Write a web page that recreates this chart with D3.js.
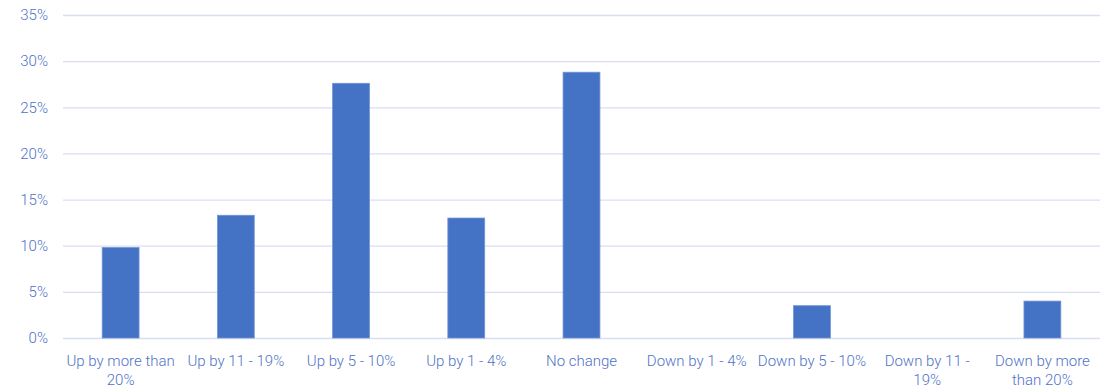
<!DOCTYPE html>
<html>
<head>
<meta charset="utf-8">
<script src="https://cdn.jsdelivr.net/npm/d3@7/dist/d3.min.js"></script>
<style>
  html, body { margin: 0; padding: 0; background: #fff; }
  svg text { font-family: Roboto, "Liberation Sans", sans-serif; font-weight: 300; }
</style>
</head>
<body>
<svg id="chart" width="1108" height="386"></svg>
<script>
// Share of responses by change bucket
const categories = [
  "Up by more than 20%", "Up by 11 - 19%", "Up by 5 - 10%", "Up by 1 - 4%",
  "No change", "Down by 1 - 4%", "Down by 5 - 10%", "Down by 11 - 19%",
  "Down by more than 20%"
];
// Axis label lines for each category
const categoryLines = [
  ["Up by more than", "20%"], ["Up by 11 - 19%"], ["Up by 5 - 10%"], ["Up by 1 - 4%"],
  ["No change"], ["Down by 1 - 4%"], ["Down by 5 - 10%"], ["Down by 11 -", "19%"],
  ["Down by more", "than 20%"]
];
const values = [9.8, 13.3, 27.6, 13.0, 28.8, 0, 3.5, 0, 4.0];
const yTicks = [0, 5, 10, 15, 20, 25, 30, 35];

const svg = d3.select("#chart");
const margin = { left: 63, right: 8, top: 15, bottom: 48 };
const W = 1108, H = 386;

const x = d3.scaleBand()
  .domain(categories)
  .range([margin.left, W - margin.right])
  .paddingInner(0.68)
  .paddingOuter(0.34);

const y = d3.scaleLinear()
  .domain([0, 35])
  .range([H - margin.bottom, margin.top]);

const textColor = "#4f72c9";
const gridColor = "#d9dff3";

// Gridlines
svg.append("g")
  .selectAll("line")
  .data(yTicks)
  .join("line")
  .attr("x1", margin.left)
  .attr("x2", W - margin.right)
  .attr("y1", d => y(d) + 0.5)
  .attr("y2", d => y(d) + 0.5)
  .attr("stroke", gridColor)
  .attr("stroke-width", 1.3);

// Y axis labels
const yAxis = svg.append("g")
  .attr("transform", `translate(${margin.left - 15},0)`)
  .call(d3.axisLeft(y).tickValues(yTicks).tickFormat(d => d + "%").tickSize(0).tickPadding(0));
yAxis.select(".domain").remove();
yAxis.selectAll("text")
  .attr("fill", textColor)
  .style("font-size", "15px")
  .style("font-family", "Roboto, sans-serif")
  .style("font-weight", 300);

// Bars
svg.append("g")
  .selectAll("rect")
  .data(values)
  .join("rect")
  .attr("x", (d, i) => x(categories[i]))
  .attr("width", x.bandwidth())
  .attr("y", d => y(d))
  .attr("height", d => y(0) - y(d))
  .attr("fill", "#4472c4")
  .attr("stroke", "#7394d6")
  .attr("stroke-width", d => d > 0 ? 0.8 : 0);

// X axis labels
const xAxis = svg.append("g")
  .attr("transform", `translate(0,${y(0)})`)
  .call(d3.axisBottom(x).tickSize(0).tickFormat(""));
xAxis.select(".domain").remove();
xAxis.selectAll(".tick").each(function(d, i) {
  const t = d3.select(this).select("text")
    .attr("fill", textColor)
    .attr("y", 0)
    .attr("dy", null)
    .style("font-size", "15px")
    .style("font-family", "Roboto, sans-serif")
    .style("font-weight", 300);
  t.selectAll("tspan")
    .data(categoryLines[i])
    .join("tspan")
    .attr("x", 0)
    .attr("y", (l, j) => 28 + j * 19)
    .text(l => l);
});
</script>
</body>
</html>
